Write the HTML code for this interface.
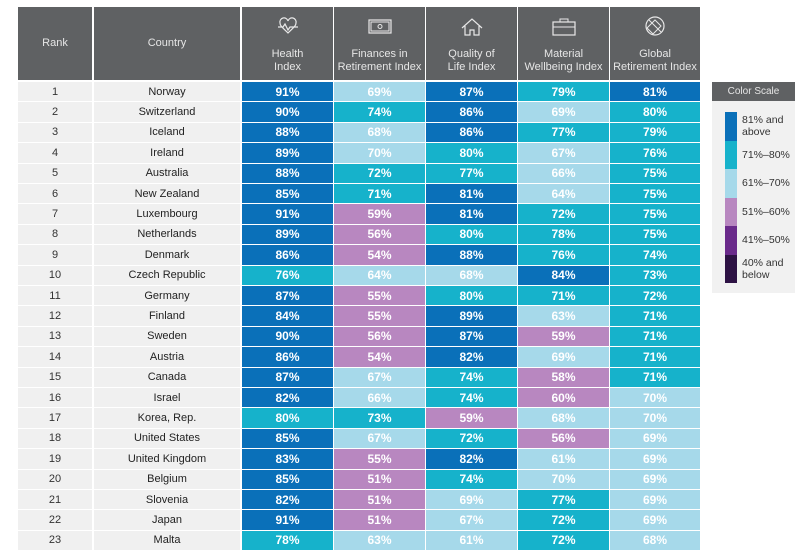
<!DOCTYPE html>
<html><head><meta charset="utf-8">
<style>
body{margin:0;width:800px;height:549px;overflow:hidden;background:#fff;font-family:"Liberation Sans",sans-serif;position:relative}
.a{position:absolute;box-sizing:border-box}
.h{background:#5f6163;color:#e6e6e6;font-size:11px;text-align:center;line-height:13px}
.c{display:flex;align-items:center;justify-content:center;font-size:11px}
.v{color:#fff;font-weight:bold;font-size:12px}
</style></head><body>
<div id="root"></div>
<div class="a" style="left:712px;top:82px;width:83px;height:211px;background:#f1f1f1">
 <div class="a h" style="left:0;top:0;width:83px;height:19px;line-height:19px;font-size:10px">Color Scale</div>
 <div id="leg"></div>
</div>
<script>
const countries=["Norway","Switzerland","Iceland","Ireland","Australia","New Zealand","Luxembourg","Netherlands","Denmark","Czech Republic","Germany","Finland","Sweden","Austria","Canada","Israel","Korea, Rep.","United States","United Kingdom","Belgium","Slovenia","Japan","Malta"];
const health=[91,90,88,89,88,85,91,89,86,76,87,84,90,86,87,82,80,85,83,85,82,91,78];
const finances=[69,74,68,70,72,71,59,56,54,64,55,55,56,54,67,66,73,67,55,51,51,51,63];
const quality=[87,86,86,80,77,81,81,80,88,68,80,89,87,82,74,74,59,72,82,74,69,67,61];
const material=[79,69,77,67,66,64,72,78,76,84,71,63,59,69,58,60,68,56,61,70,77,72,72];
const globalIdx=[81,80,79,76,75,75,75,75,74,73,72,71,71,71,71,70,70,69,69,69,69,69,68];
const headers=["Health<br>Index","Finances in<br>Retirement Index","Quality of<br>Life Index","Material<br>Wellbeing Index","Global<br>Retirement Index"];
const legendLabels=["81% and<br>above","71%–80%","61%–70%","51%–60%","41%–50%","40% and<br>below"];
const colors=["#0a70b9","#16b2cb","#a6d9ea","#b887c0","#6a2a8b","#2d1244"];
function col(v){return v>=81?colors[0]:v>=71?colors[1]:v>=61?colors[2]:v>=51?colors[3]:v>=41?colors[4]:colors[5];}
const root=document.getElementById('root');
function mk(cls,st,html,name){const d=document.createElement('div');d.className='a '+cls;d.style.cssText=st;d.innerHTML=html;


root.appendChild(d);return d;}
const xs=[18,93,241,333,425,517,609,700];
const icons=[
'<path d="M6 8a4 4 0 0 1 8-2a4 4 0 0 1 8 2c0 3-3 5-8 10c-5-5-8-7-8-10zM4 12h5l2-3 3 6 2-3h8" fill="none" stroke="#e8e8e8" stroke-width="1.2"/>',
'<rect x="3" y="5" width="22" height="13" fill="none" stroke="#e8e8e8" stroke-width="1.2"/><rect x="5" y="7" width="18" height="9" fill="none" stroke="#e8e8e8"/><circle cx="14" cy="11.5" r="2" fill="none" stroke="#e8e8e8"/>',
'<path d="M4 13L14 4l10 9M7 11v9h5v-5h4v5h5v-9" fill="none" stroke="#e8e8e8" stroke-width="1.2"/>',
'<rect x="3" y="7" width="22" height="13" fill="none" stroke="#e8e8e8" stroke-width="1.2"/><path d="M10 7V4h8v3M3 12h22" fill="none" stroke="#e8e8e8"/>',
'<circle cx="14" cy="11" r="9" fill="none" stroke="#e8e8e8" stroke-width="1.2"/><path d="M8 5l12 12M6 13l8-8 6 6-8 8z" fill="none" stroke="#e8e8e8"/>'];
mk('h c',`left:18px;top:7px;width:74px;height:73px`,'Rank','header-rank');
mk('h c',`left:94px;top:7px;width:146px;height:73px`,'Country','header-country');
for(let i=0;i<5;i++){
 mk('h',`left:${xs[i+2]+1}px;top:7px;width:${xs[i+3]-xs[i+2]-1}px;height:73px;padding-top:8px`,
 `<svg width="28" height="22" viewBox="0 0 28 22">${icons[i]}</svg><div style="margin-top:7px">${headers[i]}</div>`,'header-'+names0(i));
}
function names0(i){return ['health','finances','quality','material','global'][i];}
const series=[health,finances,quality,material,globalIdx];
const names=['health','finances','quality','material','global'];
const top0=82,ph=20.4;
for(let r=0;r<countries.length;r++){
 const y=top0+r*ph;
 mk('c',`left:18px;top:${y}px;width:74px;height:${ph-1}px;background:#f0f0f0;color:#333`,String(r+1),'rank-'+(r+1));
 mk('c',`left:94px;top:${y}px;width:146px;height:${ph-1}px;background:#f0f0f0;color:#222`,countries[r],'country-'+(r+1));
 for(let i=0;i<5;i++){
  const v=series[i][r];
  mk('c v',`left:${xs[i+2]+1}px;top:${y}px;width:${xs[i+3]-xs[i+2]-1}px;height:${ph-1}px;background:${col(v)}`,v+'%',names[i]+'-cell-'+(r+1));
 }
}
const leg=document.getElementById('leg');
for(let i=0;i<6;i++){
 const s=document.createElement('div');s.className='a';
 s.style.cssText=`left:13px;top:${30+i*28.5}px;width:12px;height:28.5px;background:${colors[i]}`;
 
 
 leg.appendChild(s);
 const t=document.createElement('div');t.className='a';
 t.style.cssText=`left:30px;top:${30+i*28.5}px;width:53px;height:28.5px;font-size:10.5px;line-height:12px;color:#333;display:flex;align-items:center`;
 t.innerHTML=legendLabels[i];
 
 
 leg.appendChild(t);
}
</script>
</body></html>
